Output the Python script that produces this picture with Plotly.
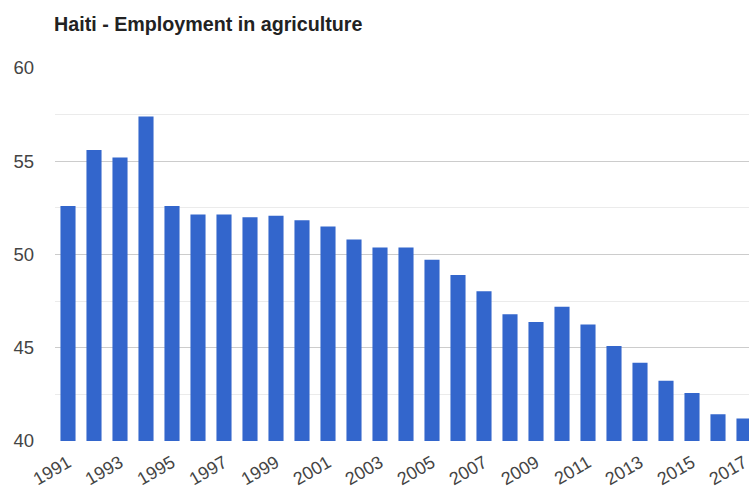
import plotly.graph_objects as go

years = list(range(1991, 2018))
values = [52.6, 55.6, 55.2, 57.4, 52.6, 52.15, 52.15, 52.0, 52.08, 51.83, 51.5, 50.8,
          50.38, 50.38, 49.72, 48.9, 48.03, 46.8, 46.38, 47.2, 46.24, 45.1, 44.2,
          43.23, 42.57, 41.43, 41.2]
tick_years = list(range(1991, 2018, 2))
y_ticks = [40, 45, 50, 55, 60]
minor_ticks = [42.5, 47.5, 52.5, 57.5]

font_family = "Arial, Liberation Sans, sans-serif"

fig = go.Figure()
fig.add_trace(go.Bar(x=years, y=values, marker=dict(color="#3366cc", line=dict(width=0)),
                     hoverinfo="x+y"))

fig.update_layout(
    width=749, height=491,
    margin=dict(l=55, r=0, t=68, b=50, pad=0, autoexpand=False),
    paper_bgcolor="white", plot_bgcolor="white",
    bargap=0.42,
    showlegend=False,
    title=dict(text="<b>Haiti - Employment in agriculture</b>", x=54/749, xanchor="left",
               y=1 - 24/491, yanchor="middle",
               font=dict(family=font_family, size=19.7, color="#222222")),
    xaxis=dict(range=[1990.5, 1990.5 + 694/26], tickvals=tick_years,
               ticktext=[str(y) for y in tick_years], tickangle=-30,
               showgrid=False, zeroline=False, showline=False, ticks="",
               automargin=False,
               ticklabelstandoff=7, ticklabeloverflow="allow",
               tickfont=dict(family=font_family, size=18, color="#444444")),
    yaxis=dict(range=[40, 60], tickvals=y_ticks, showgrid=True, gridcolor="#cccccc",
               gridwidth=1, zeroline=False, showline=False, ticks="",
               automargin=False,
               ticklabelstandoff=20,
               minor=dict(tickvals=minor_ticks, showgrid=True, gridcolor="#ebebeb", gridwidth=1),
               tickfont=dict(family=font_family, size=18.5, color="#444444")),
)

fig.write_html("out.html")
